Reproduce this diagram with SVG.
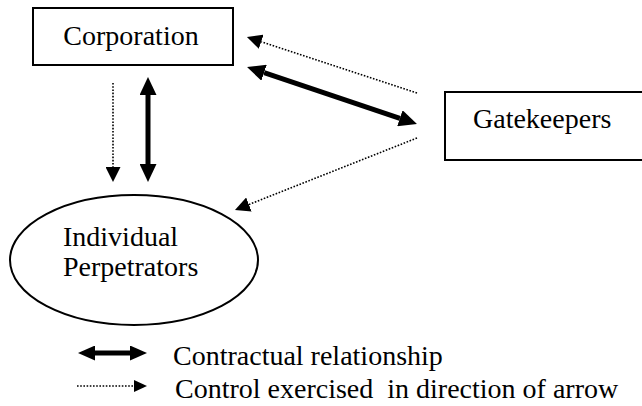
<svg xmlns="http://www.w3.org/2000/svg" width="642" height="406" viewBox="0 0 642 406" font-family="Liberation Serif">
  <defs>
    <marker id="headThick" markerUnits="userSpaceOnUse" markerWidth="18" markerHeight="17" refX="0" refY="8.5" orient="auto-start-reverse" viewBox="0 0 18 17">
      <path d="M0,0 L18,8.5 L0,17 Z" fill="#000"/>
    </marker>
    <marker id="headDot" markerUnits="userSpaceOnUse" markerWidth="15" markerHeight="15" refX="0" refY="7.5" orient="auto" viewBox="0 0 15 15">
      <path d="M0,0 L15,7.5 L0,15 Z" fill="#000"/>
    </marker>
    <marker id="headLegendThick" markerUnits="userSpaceOnUse" markerWidth="17" markerHeight="15" refX="0" refY="7.5" orient="auto-start-reverse" viewBox="0 0 17 15">
      <path d="M0,0 L17,7.5 L0,15 Z" fill="#000"/>
    </marker>
    <marker id="headLegendDot" markerUnits="userSpaceOnUse" markerWidth="13" markerHeight="12" refX="0" refY="6" orient="auto" viewBox="0 0 13 12">
      <path d="M0,0 L13,6 L0,12 Z" fill="#000"/>
    </marker>
  </defs>

  <g id="corporation">
    <rect x="33" y="8" width="200" height="57" fill="#fff" stroke="#000" stroke-width="2"/>
    <text x="131" y="45" text-anchor="middle" font-family="Liberation Serif" font-size="28">Corporation</text>
  </g>

  <g id="gatekeepers">
    <rect x="445" y="92" width="210" height="68" fill="#fff" stroke="#000" stroke-width="2"/>
    <text x="473" y="128" font-family="Liberation Serif" font-size="28">Gatekeepers</text>
  </g>

  <g id="individual-perpetrators">
    <ellipse cx="134" cy="260" rx="124" ry="65" fill="#fff" stroke="#000" stroke-width="2"/>
    <text x="63" y="246" font-family="Liberation Serif" font-size="28">Individual</text>
    <text x="63" y="276" font-family="Liberation Serif" font-size="28">Perpetrators</text>
  </g>

  <g id="connectors" stroke="#000" fill="none">
    <g stroke-width="1.6" stroke-dasharray="1.6 1.6">
      <line x1="113" y1="83" x2="113" y2="167" marker-end="url(#headDot)"/>
      <line x1="417" y1="93" x2="261.2" y2="41.7" marker-end="url(#headDot)"/>
      <line x1="417" y1="138" x2="248.9" y2="204.5" marker-end="url(#headDot)"/>
    </g>
    <g stroke-width="5">
      <line x1="148" y1="95" x2="148" y2="164" marker-start="url(#headThick)" marker-end="url(#headThick)"/>
      <line x1="264.1" y1="72.7" x2="399.9" y2="118.3" marker-start="url(#headThick)" marker-end="url(#headThick)"/>
    </g>
  </g>

  <g id="legend">
    <line x1="95" y1="353" x2="130" y2="353" stroke="#000" stroke-width="5" marker-start="url(#headLegendThick)" marker-end="url(#headLegendThick)"/>
    <text x="173" y="365" font-family="Liberation Serif" font-size="28">Contractual relationship</text>
    <line x1="77" y1="386" x2="134" y2="386" stroke="#000" stroke-width="1.6" stroke-dasharray="1.6 1.6" marker-end="url(#headLegendDot)"/>
    <text x="175" y="398" xml:space="preserve" font-family="Liberation Serif" font-size="28">Control exercised  in direction of arrow</text>
  </g>
</svg>
